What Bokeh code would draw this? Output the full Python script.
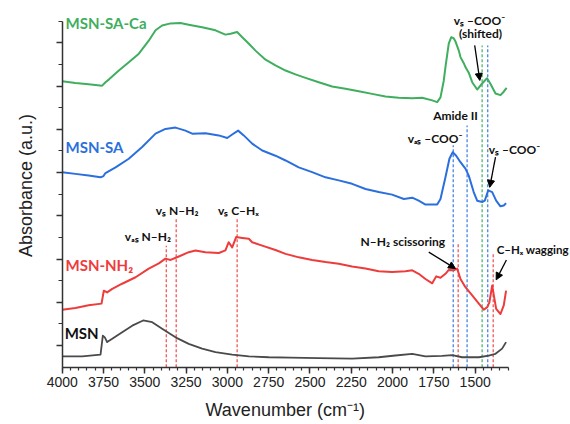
import math
from bokeh.plotting import figure
from bokeh.models import Range1d, FixedTicker, Label, Arrow, NormalHead
from bokeh.embed import file_html
from bokeh.resources import INLINE

# ---------------- data (wavenumber cm-1, absorbance a.u.) ----------------
green_wn = [4000, 3920, 3840, 3758, 3738, 3718, 3657, 3597, 3536, 3476,
            3435, 3395, 3344, 3284, 3234, 3153, 3072, 3012, 2981, 2941,
            2910, 2870, 2830, 2769, 2709, 2648, 2588, 2527, 2447, 2366,
            2285, 2205, 2124, 2043, 1963, 1881, 1821, 1760, 1730, 1710,
            1690, 1680, 1660, 1645, 1631, 1619, 1599, 1589, 1569, 1559,
            1539, 1518, 1488, 1458, 1428, 1407, 1377, 1347, 1327, 1310]
green_a = [6.61, 6.57, 6.54, 6.51, 6.59, 6.65, 6.86, 7.05, 7.25, 7.55,
           7.79, 7.90, 7.95, 7.96, 7.92, 7.86, 7.79, 7.69, 7.71, 7.75,
           7.63, 7.48, 7.32, 7.11, 6.98, 6.86, 6.77, 6.69, 6.59, 6.49,
           6.44, 6.38, 6.32, 6.26, 6.23, 6.22, 6.23, 6.17, 6.13, 6.24,
           6.63, 6.94, 7.48, 7.63, 7.61, 7.53, 7.32, 7.17, 7.03, 6.94,
           6.81, 6.59, 6.42, 6.56, 6.68, 6.55, 6.33, 6.29, 6.37, 6.46]

blue_wn = [4000, 3920, 3840, 3768, 3750, 3738, 3677, 3597, 3516, 3435,
           3375, 3314, 3254, 3213, 3133, 3052, 3001, 2971, 2935, 2901,
           2850, 2789, 2709, 2648, 2568, 2487, 2406, 2326, 2245, 2164,
           2084, 2003, 1932, 1881, 1842, 1801, 1730, 1710, 1680, 1656,
           1636, 1615, 1589, 1559, 1539, 1509, 1488, 1458, 1442, 1421,
           1397, 1373, 1347, 1327, 1313]
blue_a = [4.51, 4.47, 4.43, 4.39, 4.42, 4.49, 4.62, 4.82, 5.09, 5.40,
          5.51, 5.54, 5.47, 5.40, 5.41, 5.36, 5.30, 5.38, 5.47, 5.36,
          5.17, 5.01, 4.89, 4.78, 4.62, 4.51, 4.39, 4.32, 4.24, 4.12,
          4.05, 3.99, 3.89, 3.92, 3.85, 3.76, 3.76, 3.89, 4.39, 4.82,
          4.97, 4.89, 4.74, 4.59, 4.43, 4.05, 3.85, 3.82, 3.85, 4.09,
          4.05, 3.85, 3.72, 3.74, 3.79]

red_wn = [4000, 3920, 3840, 3762, 3748, 3728, 3697, 3637, 3556, 3476,
          3415, 3375, 3344, 3294, 3234, 3193, 3133, 3052, 3012, 2992,
          2971, 2947, 2910, 2870, 2850, 2789, 2709, 2648, 2568, 2487,
          2406, 2326, 2245, 2164, 2084, 2003, 1922, 1881, 1842, 1801,
          1760, 1736, 1710, 1680, 1660, 1630, 1609, 1589, 1559, 1518,
          1478, 1448, 1427, 1414, 1397, 1387, 1373, 1347, 1327, 1313]
red_a = [1.33, 1.37, 1.43, 1.47, 1.77, 1.73, 1.81, 1.93, 2.08, 2.28,
         2.40, 2.51, 2.48, 2.56, 2.66, 2.70, 2.66, 2.64, 2.70, 2.89,
         2.77, 3.01, 2.99, 2.97, 2.89, 2.81, 2.71, 2.62, 2.54, 2.48,
         2.43, 2.39, 2.33, 2.28, 2.22, 2.20, 2.22, 2.24, 2.16, 2.04,
         1.94, 2.10, 2.07, 2.16, 2.25, 2.24, 2.28, 2.04, 1.85, 1.66,
         1.47, 1.33, 1.39, 1.50, 1.89, 1.66, 1.35, 1.23, 1.43, 1.77]

msn_wn = [4000, 3879, 3768, 3754, 3742, 3728, 3697, 3637, 3576, 3510,
          3455, 3395, 3314, 3234, 3153, 3072, 2971, 2870, 2749, 2618,
          2447, 2245, 2084, 1983, 1881, 1801, 1700, 1639, 1579, 1478,
          1418, 1377, 1337, 1313]
msn_a = [0.25, 0.25, 0.29, 0.73, 0.69, 0.58, 0.66, 0.81, 0.96, 1.08,
         1.04, 0.89, 0.69, 0.54, 0.43, 0.35, 0.29, 0.25, 0.23, 0.22,
         0.21, 0.20, 0.23, 0.27, 0.31, 0.25, 0.26, 0.28, 0.23, 0.23,
         0.27, 0.31, 0.43, 0.58]

# band markers (wavenumber, top of dashed line)
red_mark_wn = [3370, 3310, 2941, 1603, 1391]
red_mark_top = [2.81, 3.46, 3.46, 2.84, 2.63]
blue_mark_wn = [1633, 1549, 1424]
blue_mark_top = [5.13, 5.59, 7.44]
green_mark_wn = [1458]
green_mark_top = [7.44]

x_major = [4000, 3750, 3500, 3250, 3000, 2750, 2500, 2250, 2000, 1750, 1500]
x_minor = list(range(1300, 4001, 50))
y_major = [0.5, 1.5, 2.5, 3.5, 4.5, 5.5, 6.5, 7.5]
y_minor = [1, 2, 3, 4, 5, 6, 7, 8]

# ---------------- styles ----------------
GREEN = "#3fae5e"
BLUE = "#2b6fde"
RED = "#ee3b3b"
GRAY = "#4a4a4a"
AXIS = "#333333"

# the frame fills the whole canvas; axes are pinned inside it
p = figure(width=570, height=424, output_backend="svg", toolbar_location=None,
           x_range=Range1d(4373.5, 923), y_range=Range1d(-1.325, 8.479),
           min_border=0, min_border_left=0, min_border_right=0,
           min_border_top=0, min_border_bottom=0)
p.xgrid.visible = False
p.ygrid.visible = False
p.outline_line_color = None
p.background_fill_color = "white"
p.border_fill_color = "white"

xa = p.xaxis[0]
xa.fixed_location = 0
xa.ticker = FixedTicker(ticks=x_major, minor_ticks=x_minor)
xa.bounds = (1300, 4000)
xa.axis_line_color = AXIS
xa.axis_line_width = 1.5
xa.major_tick_line_color = AXIS
xa.minor_tick_line_color = AXIS
xa.major_tick_line_width = 1.5
xa.minor_tick_line_width = 1.2
xa.major_tick_in = 0
xa.major_tick_out = 6
xa.minor_tick_in = 0
xa.minor_tick_out = 3
xa.major_label_standoff = 4
xa.major_label_text_font = "Liberation Sans"
xa.major_label_text_font_size = "14px"
xa.major_label_text_color = "#222222"

ya = p.yaxis[0]
ya.fixed_location = 4000
ya.ticker = FixedTicker(ticks=y_major, minor_ticks=y_minor)
ya.bounds = (0, 8)
ya.axis_line_color = AXIS
ya.axis_line_width = 1.5
ya.major_tick_line_color = AXIS
ya.minor_tick_line_color = AXIS
ya.major_tick_line_width = 1.5
ya.minor_tick_line_width = 1.2
ya.major_tick_in = 0
ya.major_tick_out = 6
ya.minor_tick_in = 0
ya.minor_tick_out = 4
ya.major_label_overrides = {t: "" for t in y_major}

# dashed band markers
for wns, tops, col in ((red_mark_wn, red_mark_top, "#f04848"),
                       (blue_mark_wn, blue_mark_top, "#3a7ae2"),
                       (green_mark_wn, green_mark_top, "#3fb060")):
    p.segment(x0=wns, y0=[0] * len(wns), x1=wns, y1=tops,
              line_color=col, line_width=1.2, line_dash="3 2")

# spectra
p.line(msn_wn, msn_a, line_color=GRAY, line_width=1.8, line_join="round")
p.line(red_wn, red_a, line_color=RED, line_width=2, line_join="round")
p.line(blue_wn, blue_a, line_color=BLUE, line_width=2, line_join="round")
p.line(green_wn, green_a, line_color=GREEN, line_width=2, line_join="round")


def lab(text, x, y, color="#111111", size="12px", align="center",
        font="Lato", style="bold", angle=0.0):
    p.add_layout(Label(x=x, y=y, text=text, text_color=color,
                       text_font=font, text_font_size=size,
                       text_font_style=style, text_align=align,
                       text_baseline="middle", angle=angle))


# curve names
lab("MSN-SA-Ca", 3980, 7.95, GREEN, "15px", "left")
lab("MSN-SA", 3980, 5.10, BLUE, "15px", "left")
lab("MSN-NH\u2082", 3980, 2.37, RED, "15px", "left")
lab("MSN", 3985, 0.78, "#111111", "15px", "left")

# band annotations
lab("v\u2090\u209b N\u2013H\u2082", 3481, 3.02)
lab("v\u209b N\u2013H\u2082", 3304, 3.62)
lab("v\u209b C\u2013H\u2093", 2933, 3.62)
lab("N\u2013H\u2082 scissoring", 1938, 2.91)
lab("C\u2013H\u2093 wagging", 1370, 2.72, size="11.5px", align="left")
lab("v\u2090\u209b \u2013COO\u207b", 1743, 5.29)
lab("Amide II", 1619, 5.82)
lab("v\u209b \u2013COO\u207b", 1262, 5.03)
lab("v\u209b \u2013COO\u207b", 1474, 8.02)
lab("(shifted)", 1468, 7.72)

# axis titles
lab("Absorbance (a.u.)", 4219, 4.20, "#222222", "18px", font="Liberation Sans",
    style="normal", angle=math.pi / 2)
lab("Wavenumber (cm\u207b\u00b9)", 2650, -1.0, "#222222", "18px",
    font="Liberation Sans", style="normal")

# arrows
for xs, ys, xe, ye in ((1503, 7.44, 1472, 6.63),
                       (1377, 4.86, 1412, 4.16),
                       (1781, 2.66, 1619, 2.28),
                       (1311, 2.48, 1373, 2.02)):
    p.add_layout(Arrow(end=NormalHead(size=7, fill_color="black",
                                      line_color="black"),
                       x_start=xs, y_start=ys, x_end=xe, y_end=ye,
                       line_color="black", line_width=1.3))

open("out.html", "w").write(file_html(p, INLINE))
